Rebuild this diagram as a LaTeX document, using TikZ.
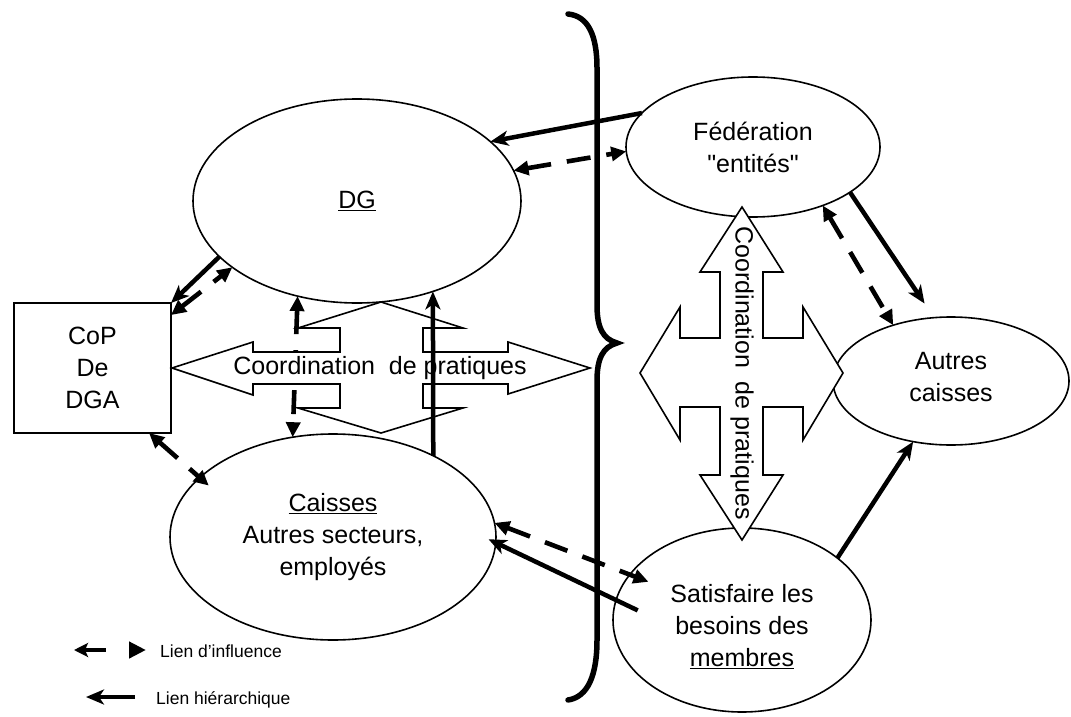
\documentclass[tikz,border=0pt]{standalone}
\usepackage{fontspec}
\setmainfont{Liberation Sans}
\newfontfamily\plainsans{Liberation Sans}
\usetikzlibrary{shapes.geometric,arrows.meta}

\newcommand\mainlab{\fontsize{25}{32}\selectfont}
\newcommand\leglab{\fontsize{17.5}{19}\selectfont}
\newcommand\dquote{{\plainsans\char"22}}

\begin{document}
\begin{tikzpicture}[x=1pt,y=-1pt,
  bubble/.style={ellipse,draw,line width=1.6pt,fill=white,inner sep=0pt,outer sep=0pt,align=center,font=\mainlab},
  copbox/.style={rectangle,draw,line width=1.6pt,fill=white,inner sep=0pt,outer sep=0pt,align=center,font=\mainlab,minimum width=157pt,minimum height=130pt},
  bubbletext/.style={inner sep=0pt,align=center,font=\mainlab},
  hier/.style={line width=4.5pt,-{Stealth[length=18pt,width=15pt,inset=5pt]}},
  influence/.style={line width=4.6pt,dash pattern=on 24pt off 16pt,{Triangle[length=15pt,width=14pt]}-{Triangle[length=15pt,width=14pt]}},
  crossarrow/.style={draw,line width=1.6pt,fill=white,line join=miter},
  crosslab/.style={inner sep=0pt,font=\mainlab},
  legtext/.style={anchor=west,inner sep=0pt,font=\leglab},
]
\useasboundingbox (0,0) rectangle (1071,717);

% actors
\node[bubble,minimum width=328pt,minimum height=204pt] (dg)  at (357,201) {\underline{DG}};
\node[bubble,minimum width=254pt,minimum height=140pt] (fed) at (753,147) {Fédération\\\dquote entités\dquote};
\node[bubble,minimum width=236pt,minimum height=128pt] (aut) at (951,381) {};
\node[bubbletext] (autlab) at ([yshift=4pt]aut.center) {Autres\\caisses};
\node[bubble,minimum width=258pt,minimum height=184pt] (sat) at (742,620) {};
\node[bubbletext] (satlab) at ([yshift=-7pt]sat.center) {Satisfaire les\\besoins des\\\underline{membres}};
\node[bubble,minimum width=326pt,minimum height=206pt] (cai) at (333,537) {\underline{Caisses}\\Autres secteurs,\\employés};
\node[copbox] (cop) at (92.5,368) {CoP\\De\\DGA};

% influence links (dashed, both ways)
\draw[influence] (dg.11) -- (fed.182);
\draw[influence] (cop.34) -- (dg.208);
\draw[influence,shorten >=-12pt] (cop.-49) -- (cai.156);
\draw[influence] (dg.238) -- (cai.112);
\draw[influence,shorten >=-20pt] (cai.5) -- (sat.158);
\draw[influence] (fed.-40) -- (aut.136);

% coordination of practices, left: four-way arrow
\draw[crossarrow] (172,368) -- (253,342) -- (253,352) -- (340,352) -- (340,328) -- (298,328)
  -- (381,302) -- (463,328) -- (423,328) -- (423,352) -- (508,352) -- (508,342) -- (590,368)
  -- (508,394) -- (508,384) -- (423,384) -- (423,408) -- (463,408) -- (381,433) -- (298,408)
  -- (340,408) -- (340,384) -- (253,384) -- (253,395) -- cycle;
\node[crosslab] (lcoord) at (380,368) {Coordination\ \ de pratiques};

% coordination of practices, right: four-way arrow
\draw[crossarrow] (742,207) -- (783,272) -- (763,272) -- (763,338) -- (803,338) -- (803,307)
  -- (843,373) -- (803,440) -- (803,407) -- (763,407) -- (763,475) -- (783,475) -- (742,540)
  -- (700,475) -- (720,475) -- (720,407) -- (680,407) -- (680,440) -- (640,373) -- (680,307)
  -- (680,338) -- (720,338) -- (720,272) -- (700,272) -- cycle;
\node[crosslab,rotate=-90] (rcoord) at (742,373) {Coordination\ \ de pratiques};

% hierarchical links (solid)
\draw[hier] (fed.163) -- (dg.24);
\draw[hier] (dg.202) -- (cop.north east);
\draw[hier] (cai.39) -- (dg.-50);
\draw[hier,shorten <=-24pt,shorten >=-8pt] (sat.171) -- (cai.-2);
\draw[hier,shorten >=17pt] (fed.-25) -- (aut.105);
\draw[hier] (sat.33) -- (aut.238);

% curly brace between the two groups
\draw[line width=5.5pt,line cap=round] (568,14) .. controls (588,16) and (597,35) .. (597,68)
  -- (597,305) .. controls (597,328) and (603,339) .. (617,343)
  .. controls (603,347) and (597,358) .. (597,381)
  -- (597,640) .. controls (597,675) and (588,697) .. (568,700);

% legend
\coordinate (infA) at (74,650);
\coordinate (infB) at (146,650);
\draw[line width=4.6pt,dash pattern=on 22pt off 30pt,
  {Stealth[length=14pt,width=14pt,inset=3pt]}-{Triangle[length=17pt,width=16pt]}] (infA) -- (infB);
\node[legtext] (leginf) at (160,651) {Lien d'influence};
\coordinate (hiA) at (86,697);
\coordinate (hiB) at (135,697);
\draw[hier] (hiB) -- (hiA);
\node[legtext] (leghier) at (156,700) {Lien hiérarchique};
\end{tikzpicture}
\end{document}
